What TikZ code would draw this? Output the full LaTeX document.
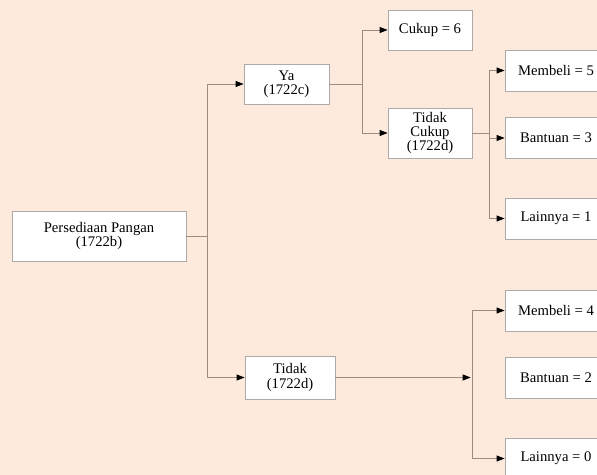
\documentclass[tikz,border=0pt]{standalone}
\usepackage{fontspec}
\setmainfont{Liberation Serif}
\usetikzlibrary{arrows.meta}
\definecolor{latar}{RGB}{253,234,220}
\definecolor{garis}{RGB}{158,140,128}
\definecolor{tepi}{RGB}{170,170,170}

\begin{document}
\begin{tikzpicture}[x=0.75pt,y=-0.75pt]

\tikzstyle{kotak}=[draw=tepi,fill=white,line width=0.6pt,align=center,inner sep=0pt,font=\fontsize{11}{10.8}\selectfont]
\tikzstyle{hasil}=[kotak,minimum width=76.5pt,minimum height=30.75pt]
\tikzstyle{panah}=[draw=garis,line width=0.6pt,-{Triangle[length=6pt,width=4.5pt,color=black]}]
\tikzstyle{garis}=[draw=garis,line width=0.6pt]

% Latar
\fill[latar] (0,0) rectangle (597,475);
\useasboundingbox (0,0) rectangle (597,475);
\clip (0,0) rectangle (597,475);

% Kotak utama

\node (pangan) [kotak,minimum width=130.5pt,minimum height=37.5pt] at (99,236) {Persediaan Pangan\\(1722b)};

\node (ya) [kotak,minimum width=63.75pt,minimum height=30pt] at (286.5,84) {Ya\\(1722c)};
\node (tidak) [kotak,minimum width=67.5pt,minimum height=32.25pt] at (290,377.5) {Tidak\\(1722d)};

% Cabang Ya

\node (cukup) [kotak,minimum width=63pt,minimum height=30pt] at (430,30) {Cukup = 6};
\node (tcukup) [kotak,minimum width=63pt,minimum height=37.5pt] at (430,133) {Tidak\\Cukup\\(1722d)};

\node (beli5) [hasil] at (556,70.5) {Membeli = 5};
\node (bantu3) [hasil] at (556,138) {Bantuan = 3};
\node (lain1) [hasil] at (556,218.5) {Lainnya = 1};

% Cabang Tidak

\node (beli4) [hasil] at (556,310.5) {Membeli = 4};
\node (bantu2) [hasil] at (556,378) {Bantuan = 2};
\node (lain0) [hasil] at (556,458.5) {Lainnya = 0};

% Titik cabang

\coordinate (c1) at (207,236);
\coordinate (c2) at (362,84);
\coordinate (c3) at (489,133);
\coordinate (c4) at (472,377.5);

% Garis penghubung

\draw [garis] (pangan.east) -- (c1);
\draw [panah] (c1) |- (ya.west);
\draw [panah] (c1) |- (tidak.west);

\draw [garis] (ya.east) -- (c2);
\draw [panah] (c2) |- (cukup.west);
\draw [panah] (c2) |- (tcukup.west);

\draw [garis] (tcukup.east) -- (c3);
\draw [panah] (c3) |- (beli5.west);
\draw [panah] (c3) |- (bantu3.west);
\draw [panah] (c3) |- (lain1.west);

\draw [panah] (tidak.east) -- ([xshift=-1pt]c4);
\draw [panah] (c4) |- (beli4.west);
\draw [panah] (c4) |- (lain0.west);

\end{tikzpicture}
\end{document}
